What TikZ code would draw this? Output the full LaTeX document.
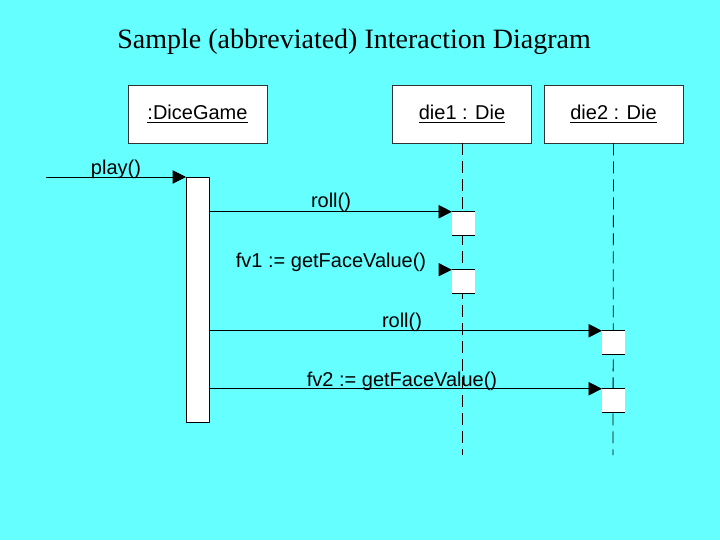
\documentclass[tikz,border=0pt]{standalone}
\usepackage{fontspec}
\setmainfont{Liberation Sans}
\newfontfamily\titlefont{Liberation Serif}
\usetikzlibrary{arrows.meta}
\definecolor{bgcyan}{HTML}{66FFFF}
\definecolor{boxedge}{HTML}{333333}
\begin{document}
\begin{tikzpicture}[x=0.75pt,y=-0.75pt,
  objbox/.style={draw=boxedge,line width=0.6pt,fill=white,minimum width=104.25pt,minimum height=43.5pt,inner sep=0pt,font=\fontsize{15pt}{18pt}\selectfont},
  lbl/.style={anchor=base,font=\fontsize{15pt}{18pt}\selectfont,inner sep=0pt},
  msg/.style={line width=0.6pt,-{Triangle[length=10pt,width=10pt]}},
  lifeline/.style={line width=0.6pt,dash pattern=on 9pt off 4.5pt},
  act/.style={fill=white,draw=none,minimum width=17pt,minimum height=17.25pt,inner sep=0pt}]
\fill[bgcyan] (0,0) rectangle (720,540);
\useasboundingbox (0,0) rectangle (720,540);
% title
\node[anchor=base,inner sep=0pt,font=\titlefont\fontsize{21pt}{25pt}\selectfont] (title) at (354,48) {Sample (abbreviated) Interaction Diagram};
% objects
\node[objbox] (dg) at (197.5,114) {\underline{:DiceGame}};
\node[objbox] (d1) at (462,114) {\underline{die1 : Die}};
\node[objbox] (d2) at (613.5,114) {\underline{die2 : Die}};
% lifelines
\coordinate (e1) at (462,455);
\coordinate (e2) at (613,455);
\draw[lifeline] (d1.south) -- (e1);
\draw[lifeline] (d2.south) -- (e2);
% DiceGame activation
\node[draw=black,line width=0.6pt,fill=white,minimum width=17.25pt,minimum height=183.75pt,inner sep=0pt,anchor=north west] (ag) at (186,177) {};
% die activations
\node[act] (a1) at (463.5,223.5) {};
\node[act] (a2) at (463.5,281.5) {};
\node[act] (a3) at (613.5,342.5) {};
\node[act] (a4) at (613.5,400.5) {};
\foreach \a in {a1,a2,a3,a4}{
  \draw[line width=0.6pt] (\a.north west) -- (\a.north east);
  \draw[line width=0.6pt] (\a.south west) -- (\a.south east);
}
% messages
\coordinate (start) at (46,177);
\draw[msg] (start) -- (ag.north west);
\node[lbl] (lplay) at (116,174) {play()};
\draw[msg] (ag.east |- a1.north) -- (a1.north west);
\node[lbl] (lroll1) at (331,207) {roll()};
\coordinate (f1) at (440,270);
\draw[msg,line width=0pt,draw=bgcyan] (f1) -- (a2.north west);
\fill[black] (a2.north west) -- ++(-13.3,-6.7) -- ++(0,13.4) -- cycle;
\node[lbl] (lfv1) at (331,267) {fv1 := getFaceValue()};
\draw[msg] (ag.east |- a3.north) -- (a3.north west);
\node[lbl] (lroll2) at (402,327) {roll()};
\draw[msg] (ag.east |- a4.north) -- (a4.north west);
\node[lbl] (lfv2) at (402,386) {fv2 := getFaceValue()};
\end{tikzpicture}
\end{document}
